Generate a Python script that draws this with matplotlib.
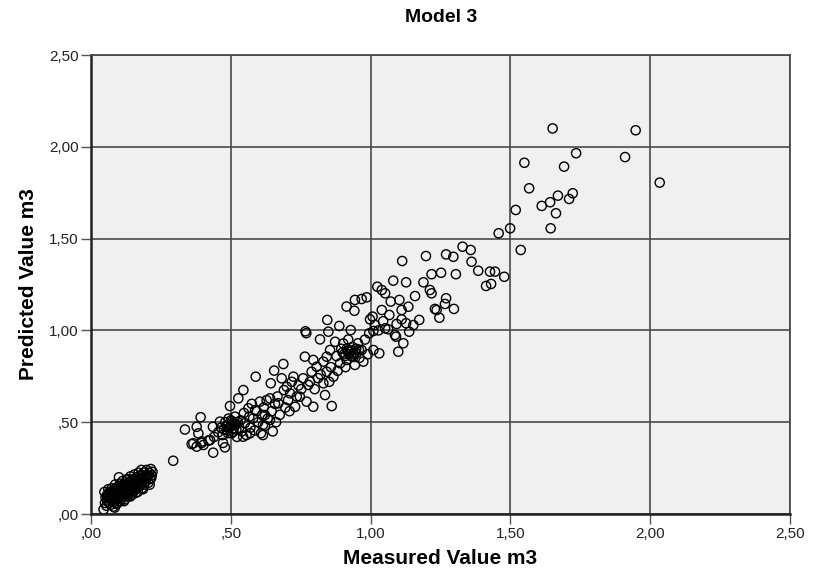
import matplotlib.pyplot as plt
from matplotlib.ticker import FuncFormatter, MultipleLocator

# Low cluster (small measured volumes)
low_measured = [
    0.045, 0.050, 0.052, 0.048, 0.055, 0.058, 0.060, 0.062, 0.065, 0.068,
    0.070, 0.072, 0.074, 0.076, 0.078, 0.080, 0.082, 0.084, 0.086, 0.088,
    0.090, 0.092, 0.094, 0.096, 0.098, 0.100, 0.101, 0.103, 0.105, 0.107,
    0.109, 0.111, 0.113, 0.115, 0.117, 0.119, 0.121, 0.123, 0.125, 0.127,
    0.129, 0.131, 0.133, 0.135, 0.137, 0.139, 0.141, 0.143, 0.145, 0.147,
    0.149, 0.151, 0.153, 0.155, 0.157, 0.159, 0.161, 0.163, 0.165, 0.167,
    0.170, 0.172, 0.174, 0.176, 0.178, 0.180, 0.182, 0.185, 0.188, 0.190,
    0.193, 0.196, 0.199, 0.202, 0.205, 0.208, 0.211, 0.214, 0.217, 0.220,
    0.056, 0.066, 0.085, 0.095, 0.118, 0.140, 0.160, 0.186, 0.210, 0.128,
    0.060, 0.065, 0.070, 0.075, 0.080, 0.085, 0.088, 0.092, 0.095, 0.098,
    0.102, 0.105, 0.108, 0.110, 0.112, 0.115, 0.118, 0.120, 0.122, 0.125,
    0.128, 0.130, 0.133, 0.136, 0.140, 0.143, 0.146, 0.150, 0.154, 0.158,
    0.162, 0.166, 0.170, 0.175, 0.180, 0.185, 0.190, 0.195, 0.205, 0.215,
]
low_predicted = [
    0.025, 0.060, 0.090, 0.120, 0.045, 0.075, 0.105, 0.135, 0.060, 0.090,
    0.050, 0.115, 0.140, 0.075, 0.100, 0.040, 0.065, 0.125, 0.160, 0.090,
    0.110, 0.055, 0.145, 0.080, 0.120, 0.200, 0.100, 0.165, 0.070, 0.135,
    0.115, 0.090, 0.180, 0.150, 0.105, 0.125, 0.080, 0.160, 0.140, 0.110,
    0.190, 0.095, 0.170, 0.130, 0.150, 0.115, 0.205, 0.175, 0.140, 0.105,
    0.160, 0.190, 0.125, 0.215, 0.150, 0.175, 0.135, 0.200, 0.165, 0.120,
    0.225, 0.185, 0.150, 0.210, 0.170, 0.240, 0.140, 0.195, 0.225, 0.160,
    0.210, 0.180, 0.240, 0.200, 0.170, 0.225, 0.190, 0.245, 0.210, 0.230,
    0.100, 0.120, 0.035, 0.060, 0.070, 0.095, 0.115, 0.135, 0.160, 0.185,
    0.090, 0.110, 0.080, 0.125, 0.095, 0.110, 0.140, 0.100, 0.125, 0.090,
    0.140, 0.110, 0.155, 0.125, 0.100, 0.135, 0.165, 0.110, 0.145, 0.125,
    0.155, 0.120, 0.140, 0.165, 0.130, 0.155, 0.185, 0.145, 0.170, 0.140,
    0.185, 0.150, 0.175, 0.195, 0.165, 0.210, 0.185, 0.200, 0.210, 0.195,
]

# Middle range
mid_measured = [
    0.294, 0.336, 0.378, 0.392, 0.384, 0.360, 0.378, 0.402, 0.366, 0.396,
    0.437, 0.420, 0.479, 0.440, 0.455, 0.465, 0.470, 0.480, 0.488, 0.492,
    0.497, 0.500, 0.503, 0.505, 0.510, 0.515, 0.518, 0.522, 0.527, 0.530,
    0.535, 0.540, 0.545, 0.547, 0.550, 0.556, 0.563, 0.566, 0.570, 0.575,
    0.580, 0.585, 0.589, 0.593, 0.598, 0.604, 0.608, 0.612, 0.618, 0.622,
    0.628, 0.632, 0.640, 0.643, 0.646, 0.650, 0.655, 0.658, 0.662, 0.667,
    0.670, 0.675, 0.682, 0.688, 0.690, 0.695, 0.700, 0.705, 0.710, 0.712,
    0.718, 0.724, 0.730, 0.736, 0.742, 0.747, 0.752, 0.759,
    0.396, 0.426, 0.472, 0.436, 0.461, 0.508, 0.544, 0.569, 0.615, 0.587,
    0.622, 0.615, 0.640,
    0.475, 0.485, 0.495, 0.500, 0.512, 0.520, 0.490, 0.525,
]
mid_predicted = [
    0.290, 0.460, 0.475, 0.527, 0.439, 0.381, 0.367, 0.376, 0.385, 0.395,
    0.334, 0.400, 0.363, 0.420, 0.445, 0.470, 0.430, 0.500, 0.455, 0.520,
    0.588, 0.480, 0.440, 0.505, 0.465, 0.530, 0.490, 0.420, 0.630, 0.470,
    0.510, 0.450, 0.675, 0.550, 0.495, 0.430, 0.576, 0.530, 0.470, 0.600,
    0.521, 0.455, 0.748, 0.560, 0.500, 0.612, 0.440, 0.540, 0.580, 0.480,
    0.620, 0.520, 0.630, 0.712, 0.560, 0.450, 0.781, 0.600, 0.500, 0.640,
    0.603, 0.540, 0.739, 0.817, 0.675, 0.580, 0.693, 0.620, 0.560, 0.657,
    0.720, 0.748, 0.584, 0.640, 0.700, 0.639, 0.680, 0.739,
    0.387, 0.403, 0.387, 0.475, 0.503, 0.448, 0.421, 0.440, 0.430, 0.566,
    0.539, 0.485, 0.512,
    0.460, 0.480, 0.470, 0.510, 0.495, 0.460, 0.440, 0.500,
]

# Upper middle range
upper_measured = [
    0.765, 0.767, 0.770, 0.771, 0.777, 0.783, 0.789, 0.795, 0.795, 0.800,
    0.807, 0.812, 0.819, 0.821, 0.831, 0.831, 0.837, 0.843, 0.843, 0.845,
    0.849, 0.852, 0.855, 0.858, 0.861, 0.867, 0.873, 0.878, 0.882, 0.888,
    0.891, 0.895, 0.902, 0.905, 0.910, 0.914, 0.914, 0.917, 0.920, 0.926,
    0.929, 0.930, 0.935, 0.940, 0.942, 0.944, 0.944, 0.948, 0.950, 0.955,
    0.960, 0.968, 0.968, 0.974, 0.980, 0.986, 0.990, 0.995, 0.998, 1.007,
    1.010, 1.010, 1.015, 1.024, 1.028, 1.031, 1.040, 1.040, 1.045, 1.052,
    1.052, 1.063, 1.067,
    0.900, 0.908, 0.915, 0.922, 0.932, 0.938, 0.945, 0.958,
]
upper_predicted = [
    0.857, 0.995, 0.985, 0.612, 0.703, 0.721, 0.775, 0.584, 0.839, 0.680,
    0.802, 0.740, 0.951, 0.760, 0.830, 0.712, 0.648, 0.775, 0.857, 1.057,
    0.993, 0.720, 0.893, 0.800, 0.588, 0.748, 0.938, 0.860, 0.780, 1.024,
    0.821, 0.900, 0.929, 0.870, 0.800, 0.839, 1.130, 0.890, 0.950, 0.884,
    1.002, 0.860, 0.910, 0.870, 1.107, 0.812, 1.166, 0.900, 0.875, 0.930,
    0.850, 0.893, 1.171, 0.830, 0.950, 1.180, 0.870, 0.984, 1.060, 1.075,
    0.893, 0.997, 1.030, 1.238, 1.000, 0.875, 1.220, 1.111, 1.050, 1.202,
    1.011, 1.006, 1.084,
    0.880, 0.860, 0.900, 0.870, 0.890, 0.855, 0.880, 0.895,
]

# High range
high_measured = [
    1.072, 1.081, 1.087, 1.091, 1.093, 1.099, 1.103, 1.111, 1.111, 1.113,
    1.117, 1.127, 1.127, 1.135, 1.138, 1.153, 1.159, 1.174, 1.189, 1.198,
    1.212, 1.218, 1.218, 1.230, 1.236, 1.246, 1.252, 1.266, 1.270, 1.270,
    1.296, 1.298, 1.305, 1.329, 1.358, 1.361, 1.385, 1.413, 1.427, 1.431,
    1.445, 1.458, 1.478, 1.499, 1.519, 1.537, 1.550, 1.567, 1.612, 1.642,
    1.644, 1.651, 1.663, 1.670, 1.692, 1.710, 1.723, 1.735, 1.910, 1.948,
    2.034,
]
high_predicted = [
    1.157, 1.271, 0.975, 0.966, 1.035, 0.884, 1.166, 1.111, 1.060, 1.378,
    0.930, 1.262, 1.039, 1.129, 0.993, 1.029, 1.187, 1.057, 1.262, 1.405,
    1.220, 1.202, 1.306, 1.117, 1.111, 1.069, 1.314, 1.144, 1.175, 1.414,
    1.401, 1.117, 1.306, 1.456, 1.438, 1.374, 1.325, 1.242, 1.320, 1.253,
    1.320, 1.529, 1.292, 1.556, 1.656, 1.438, 1.913, 1.774, 1.678, 1.698,
    1.556, 2.100, 1.638, 1.734, 1.892, 1.716, 1.747, 1.965, 1.944, 2.090,
    1.805,
]

measured = low_measured + mid_measured + upper_measured + high_measured
predicted = low_predicted + mid_predicted + upper_predicted + high_predicted

plt.rcParams['font.family'] = ['Liberation Sans', 'DejaVu Sans']

fig = plt.figure(figsize=(8.14, 5.72), dpi=100)
ax = fig.add_axes([91 / 814, 1 - 514 / 572, 699 / 814, 459 / 572])
ax.set_facecolor('#f0f0f0')
ax.set_axisbelow(True)

ax.scatter(measured, predicted, s=44, facecolors='none', edgecolors='black',
           linewidths=1.0)

ax.set_xlim(0, 2.5)
ax.set_ylim(0, 2.5)
ax.xaxis.set_major_locator(MultipleLocator(0.5))
ax.yaxis.set_major_locator(MultipleLocator(0.5))


def comma_fmt(v, pos):
    s = f'{v:.2f}'.replace('.', ',')
    if s.startswith('0'):
        s = s[1:]
    return s


ax.xaxis.set_major_formatter(FuncFormatter(comma_fmt))
ax.yaxis.set_major_formatter(FuncFormatter(comma_fmt))

ax.grid(True, color='#4a4a4a', linewidth=1.2)
ax.tick_params(direction='out', length=7, width=1, color='#555555',
               labelsize=11, labelcolor='#222222', pad=2)

for side in ['left', 'bottom']:
    ax.spines[side].set_linewidth(1.8)
    ax.spines[side].set_color('#222222')
for side in ['top', 'right']:
    ax.spines[side].set_linewidth(1.3)
    ax.spines[side].set_color('#4a4a4a')

ax.set_xlabel('Measured Value m3', fontsize=15, fontweight='bold', labelpad=6)
ax.set_ylabel('Predicted Value m3', fontsize=15, fontweight='bold', labelpad=8)
fig.text(441 / 814, 1 - 18 / 572, 'Model 3', ha='center', va='center',
         fontsize=14, fontweight='bold')

fig.savefig('out.png', dpi=100)
